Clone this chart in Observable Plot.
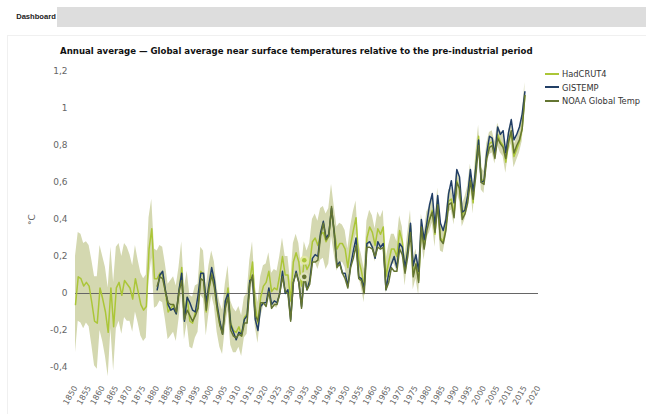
<!DOCTYPE html>
<html><head><meta charset="utf-8">
<script src="https://cdn.jsdelivr.net/npm/d3@7"></script>
<script src="https://cdn.jsdelivr.net/npm/@observablehq/plot@0.6"></script>
<style>
body{margin:0;width:646px;height:414px;overflow:hidden;background:#fff;font-family:"DejaVu Sans",Verdana,sans-serif;position:relative}
#tabbar{position:absolute;left:15px;top:7px;width:631px;height:20px;background:#dddddd}
#tab{position:absolute;left:15px;top:7px;width:42px;height:20px;background:#fff;font-family:"Liberation Sans",Arial,sans-serif;font-size:7.6px;font-weight:bold;color:#222;line-height:20px;text-align:center}
#panel{position:absolute;left:7px;top:35px;width:639px;height:379px;border-left:1px solid #f0f0f0;border-top:1px solid #f0f0f0}
#title{position:absolute;left:60px;top:46px;font-size:8.6px;font-weight:bold;color:#111;white-space:nowrap}
#chart{position:absolute;left:0;top:60px}
#legend{position:absolute;left:545px;top:68px;font-size:8.3px;color:#333}
.item{height:13.5px;line-height:13.5px;white-space:nowrap}
.sw{display:inline-block;width:14px;height:2px;vertical-align:middle;margin-right:3px;position:relative;top:-1px}
</style></head>
<body>
<div id="tabbar"></div>
<div id="tab">Dashboard</div>
<div id="panel"></div>
<div id="title">Annual average — Global average near surface temperatures relative to the pre-industrial period</div>
<div id="chart"></div>
<div id="legend"></div>
<script>
const seriesNames = ["HadCRUT4", "GISTEMP", "NOAA Global Temp"];
const seriesColors = ["#abc637", "#223f66", "#647532"];
const xTicks = [1850,1855,1860,1865,1870,1875,1880,1885,1890,1895,1900,1905,1910,1915,1920,1925,1930,1935,1940,1945,1950,1955,1960,1965,1970,1975,1980,1985,1990,1995,2000,2005,2010,2015,2020];
const yTicks = [-0.4,-0.2,0,0.2,0.4,0.6,0.8,1,1.2];
const hadStart = 1850;
const hadcrut = [
-0.06,0.09,0.08,0.04,0.06,0.04,-0.05,-0.15,-0.16,0.03,
-0.03,-0.10,-0.21,0.03,-0.18,0.03,0.06,-0.01,0.07,0.05,
0.03,-0.03,0.08,0.01,-0.06,-0.09,-0.07,0.24,0.35,0.08,
0.08,0.11,0.10,0.01,-0.10,-0.08,-0.06,-0.11,0.00,0.14,
-0.11,-0.02,-0.15,-0.16,-0.10,-0.08,0.12,0.10,-0.10,0.02,
0.11,0.05,-0.09,-0.17,-0.21,-0.07,0.03,-0.16,-0.20,-0.21,
-0.18,-0.23,-0.13,-0.11,0.07,0.17,-0.07,-0.16,-0.02,0.04,
0.06,0.12,0.01,0.03,0.02,0.10,0.20,0.10,0.10,-0.04,
0.17,0.22,0.17,0.04,0.18,0.13,0.16,0.28,0.30,0.26,
0.32,0.33,0.28,0.31,0.45,0.34,0.24,0.27,0.27,0.24,
0.14,0.26,0.34,0.41,0.18,0.12,0.04,0.30,0.36,0.33,
0.26,0.35,0.32,0.36,0.09,0.17,0.24,0.24,0.20,0.34,
0.28,0.12,0.25,0.37,0.10,0.16,0.07,0.36,0.25,0.37,
0.40,0.45,0.32,0.50,0.30,0.28,0.36,0.50,0.51,0.43,
0.61,0.56,0.42,0.46,0.52,0.64,0.49,0.70,0.85,0.62,
0.60,0.75,0.81,0.82,0.76,0.86,0.82,0.80,0.71,0.82,
0.87,0.74,0.78,0.82,0.89,1.07];
const hadUnc = [
0.26,0.24,0.24,0.23,0.22,0.22,0.23,0.24,0.25,0.23,
0.23,0.24,0.24,0.22,0.24,0.22,0.21,0.21,0.20,0.20,
0.18,0.18,0.18,0.17,0.17,0.17,0.17,0.17,0.16,0.16,
0.15,0.15,0.15,0.15,0.15,0.15,0.15,0.15,0.14,0.14,
0.14,0.14,0.14,0.14,0.14,0.13,0.13,0.13,0.13,0.13,
0.12,0.12,0.12,0.12,0.12,0.12,0.12,0.12,0.12,0.11,
0.11,0.11,0.11,0.11,0.11,0.11,0.11,0.11,0.11,0.11,
0.10,0.10,0.10,0.10,0.10,0.10,0.10,0.10,0.10,0.10,
0.10,0.10,0.10,0.10,0.10,0.10,0.11,0.12,0.13,0.13,
0.14,0.14,0.15,0.15,0.14,0.13,0.12,0.11,0.10,0.10,
0.10,0.10,0.10,0.09,0.09,0.09,0.09,0.09,0.09,0.09,
0.09,0.09,0.09,0.09,0.09,0.09,0.08,0.08,0.08,0.08,
0.08,0.08,0.08,0.08,0.08,0.08,0.08,0.07,0.07,0.07,
0.07,0.07,0.07,0.07,0.07,0.06,0.06,0.06,0.06,0.06,
0.06,0.06,0.06,0.06,0.06,0.06,0.06,0.06,0.06,0.06,
0.06,0.06,0.06,0.06,0.06,0.06,0.06,0.06,0.06,0.06,
0.06,0.06,0.06,0.06,0.07,0.07];
const gisStart = 1880;
const gistemp = [
0.02,0.10,0.12,0.02,-0.06,-0.09,-0.08,-0.11,0.02,0.11,
-0.15,-0.02,-0.05,-0.09,-0.10,-0.01,0.11,0.11,-0.05,0.05,
0.14,0.07,-0.06,-0.15,-0.22,-0.04,0.00,-0.17,-0.21,-0.25,
-0.21,-0.22,-0.14,-0.12,0.07,0.08,-0.14,-0.20,-0.07,-0.05,
-0.05,0.03,-0.06,-0.04,-0.05,0.00,0.12,0.00,0.02,-0.14,
0.06,0.12,0.06,-0.07,0.10,0.02,0.07,0.19,0.21,0.20,
0.33,0.39,0.30,0.32,0.46,0.33,0.15,0.17,0.11,0.11,
0.04,0.15,0.23,0.30,0.09,0.08,0.03,0.27,0.28,0.25,
0.19,0.28,0.25,0.27,0.02,0.11,0.16,0.20,0.14,0.27,
0.25,0.14,0.23,0.38,0.15,0.21,0.12,0.40,0.29,0.38,
0.48,0.54,0.36,0.53,0.38,0.34,0.40,0.54,0.61,0.49,
0.67,0.63,0.44,0.45,0.53,0.67,0.55,0.68,0.83,0.60,
0.61,0.76,0.85,0.84,0.75,0.90,0.86,0.88,0.76,0.87,
0.94,0.83,0.86,0.90,0.97,1.09];
const noaaStart = 1880;
const noaa = [
0.04,0.09,0.08,0.01,-0.05,-0.06,-0.06,-0.10,0.01,0.07,
-0.14,-0.09,-0.12,-0.15,-0.12,-0.08,0.08,0.07,-0.09,0.03,
0.10,0.03,-0.08,-0.17,-0.22,-0.08,-0.02,-0.20,-0.23,-0.24,
-0.22,-0.23,-0.16,-0.16,0.05,0.10,-0.12,-0.15,-0.05,-0.05,
-0.07,0.01,-0.08,-0.06,-0.06,0.00,0.09,0.01,0.00,-0.15,
0.06,0.11,0.06,-0.08,0.09,0.02,0.05,0.17,0.17,0.18,
0.31,0.38,0.29,0.31,0.47,0.32,0.14,0.16,0.11,0.08,
0.03,0.14,0.19,0.26,0.08,0.07,0.00,0.25,0.25,0.24,
0.20,0.25,0.24,0.25,0.02,0.06,0.14,0.12,0.12,0.24,
0.21,0.11,0.20,0.33,0.09,0.16,0.06,0.36,0.24,0.34,
0.40,0.44,0.33,0.48,0.29,0.27,0.34,0.48,0.49,0.41,
0.60,0.57,0.40,0.43,0.49,0.61,0.51,0.64,0.80,0.60,
0.59,0.73,0.79,0.80,0.73,0.84,0.81,0.79,0.73,0.82,
0.88,0.76,0.80,0.83,0.89,1.07];
const markerYear = 1934;

const hadRows = hadcrut.map((v, i) => ({year: hadStart + i, v, lo: v - hadUnc[i], hi: v + hadUnc[i]}));
const gisRows = gistemp.map((v, i) => ({year: gisStart + i, v}));
const noaaRows = noaa.map((v, i) => ({year: noaaStart + i, v}));
const markers = [
  {year: markerYear, v: hadcrut[markerYear - hadStart], c: seriesColors[0], ring: "#e3e8a6"},
  {year: markerYear, v: noaa[markerYear - noaaStart], c: seriesColors[2], ring: "#dfe3bf"}
];
const fmt = d => String(d).replace(".", ",");

const chart = Plot.plot({
  width: 646, height: 354,
  marginLeft: 75, marginRight: 108, marginTop: 11, marginBottom: 47,
  style: {fontFamily: "'DejaVu Sans', Verdana, sans-serif", fontSize: "9px", color: "#666", background: "transparent"},
  x: {domain: [1850, 2020], axis: null},
  y: {domain: [-0.4, 1.2], axis: null},
  marks: [
    Plot.areaY(hadRows, {x: "year", y1: "lo", y2: "hi", fill: "#d4d8b0", curve: "linear"}),
    Plot.ruleY([0], {stroke: "#666", strokeWidth: 1}),
    Plot.lineY(hadRows, {x: "year", y: "v", stroke: seriesColors[0], strokeWidth: 1.5}),
    Plot.lineY(gisRows, {x: "year", y: "v", stroke: seriesColors[1], strokeWidth: 1.5}),
    Plot.lineY(noaaRows, {x: "year", y: "v", stroke: seriesColors[2], strokeWidth: 1.5}),
    Plot.dot(markers, {x: "year", y: "v", r: 4.5, fill: "ring", stroke: "none"}),
    Plot.dot(markers, {x: "year", y: "v", r: 2.3, fill: "c", stroke: "none"}),
    Plot.axisY({ticks: yTicks, tickFormat: fmt, tickSize: 0, tickPadding: 8, fontSize: 9, fill: "#666",
      label: "°C", labelAnchor: "center", labelArrow: "none", labelOffset: 47}),
    Plot.axisX({ticks: xTicks, tickFormat: d => String(d), tickSize: 0, tickPadding: 19, tickRotate: -60, fontSize: 8, fill: "#666", label: null})
  ]
});
document.getElementById("chart").appendChild(chart);

const legend = document.getElementById("legend");
seriesNames.forEach((n, i) => {
  const d = document.createElement("div");
  d.className = "item";
  d.innerHTML = `<span class="sw" style="background:${seriesColors[i]}"></span>${n}`;
  legend.appendChild(d);
});
</script>
</body></html>
